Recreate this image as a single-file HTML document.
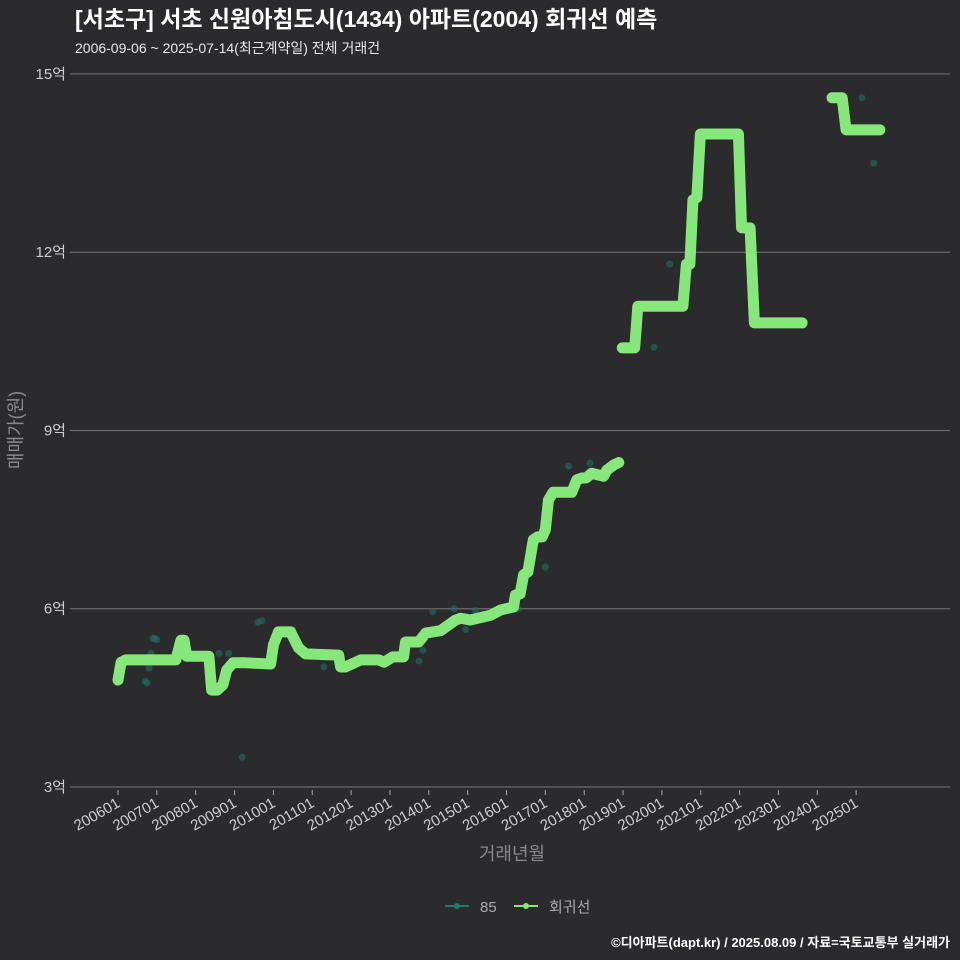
<!DOCTYPE html>
<html><head><meta charset="utf-8"><style>
body{margin:0;background:#2b2a2c;}
svg{display:block;font-family:"Liberation Sans","Noto Sans CJK KR",sans-serif;}
</style></head><body>
<svg id="chart" width="960" height="960" xmlns="http://www.w3.org/2000/svg">
<rect width="960" height="960" fill="#2b2a2c"/>
<text x="75" y="27" fill="#ffffff" font-size="23" font-weight="bold">[서초구] 서초 신원아침도시(1434) 아파트(2004) 회귀선 예측</text>
<text x="75" y="53" fill="#e8e8e8" font-size="14">2006-09-06 ~ 2025-07-14(최근계약일) 전체 거래건</text>
<g id="grid"></g><g id="yticks"></g><g id="xticks"></g>
<g id="scatter"></g><g id="line"></g>
<text transform="translate(22,430) rotate(-90)" text-anchor="middle" fill="#8a8a8a" font-size="18">매매가(원)</text>
<text x="512" y="860" text-anchor="middle" fill="#8a8a8a" font-size="18">거래년월</text>
<g>
<g>
<line x1="445" y1="906" x2="469" y2="906" stroke="#1f7a72" stroke-width="2"/><circle cx="457" cy="906" r="3" fill="#1f7a72"/>
<text x="480" y="912" fill="#aaaaaa" font-size="15">85</text></g>
<g>
<line x1="514" y1="906" x2="538" y2="906" stroke="#86e87a" stroke-width="2"/><circle cx="526" cy="906" r="3" fill="#86e87a"/>
<text x="549" y="912" fill="#aaaaaa" font-size="15">회귀선</text></g>
</g>
<text x="950" y="947" text-anchor="end" fill="#ffffff" font-size="13" font-weight="bold">©디아파트(dapt.kr) / 2025.08.09 / 자료=국토교통부 실거래가</text>
</svg>
<script>
const yTicks=[3,6,9,12,15];
const xTickLabels=['200601','200701','200801','200901','201001','201101','201201','201301','201401','201501','201601','201701','201801','201901','202001','202101','202201','202301','202401','202501'];
const lineYears=[2006.0,2006.08,2006.2,2007.49,2007.62,2007.7,2007.77,2008.34,2008.41,2008.55,2008.7,2008.8,2008.96,2009.29,2009.93,2010.0,2010.13,2010.44,2010.65,2010.83,2011.68,2011.73,2011.85,2012.25,2012.71,2012.85,2013.07,2013.35,2013.4,2013.74,2013.92,2014.3,2014.69,2014.82,2015.07,2015.59,2015.85,2016.18,2016.23,2016.35,2016.44,2016.55,2016.69,2016.8,2016.92,2017.0,2017.08,2017.2,2017.37,2017.68,2017.81,2017.94,2018.05,2018.19,2018.5,2018.58,2018.76,2018.89,null,2018.98,2019.3,2019.38,2020.54,2020.63,2020.72,2020.8,2020.9,2020.99,2021.97,2022.05,2022.27,2022.38,2023.61,null,2024.38,2024.64,2024.74,2025.61];
const lineValues=[4.80,5.10,5.14,5.14,5.47,5.47,5.20,5.20,4.63,4.63,4.72,4.97,5.09,5.09,5.07,5.39,5.61,5.61,5.34,5.24,5.22,5.02,5.02,5.14,5.14,5.10,5.19,5.19,5.44,5.44,5.59,5.63,5.81,5.84,5.81,5.89,5.98,6.03,6.23,6.25,6.57,6.62,7.16,7.21,7.21,7.33,7.83,7.96,7.96,7.96,8.17,8.20,8.20,8.28,8.23,8.33,8.42,8.46,null,10.39,10.39,11.09,11.09,11.80,11.80,12.88,12.92,13.99,13.99,12.41,12.41,10.81,10.81,null,14.60,14.60,14.06,14.06];
const scatterYears=[2006.7,2006.75,2006.8,2006.85,2006.9,2006.95,2007.0,2008.6,2008.85,2009.2,2009.6,2009.7,2010.5,2011.3,2011.9,2012.0,2013.75,2013.85,2014.1,2014.55,2014.65,2014.95,2015.2,2015.4,2016.3,2017.0,2017.6,2018.1,2018.15,2019.8,2020.2,2025.15,2025.45];
const scatterValues=[4.78,4.75,5.0,5.25,5.5,5.5,5.48,5.25,5.25,3.5,5.77,5.8,5.65,5.02,5.03,5.03,5.12,5.3,5.95,5.72,6.0,5.65,5.97,5.9,6.0,6.7,8.4,8.25,8.45,10.4,11.8,14.6,13.5];
const NS='http://www.w3.org/2000/svg';
function xS(yr){return 118+(yr-2006)*38.85;}
function yS(v){return 787-(v-3)*59.42;}
function mk(t,a,p){const e=document.createElementNS(NS,t);for(const k in a)e.setAttribute(k,a[k]);p.appendChild(e);return e;}
const g=document.getElementById('grid'),yt=document.getElementById('yticks'),xt=document.getElementById('xticks');
yTicks.forEach(v=>{
 const l=mk('line',{x1:70,x2:950,y1:yS(v),y2:yS(v),stroke:'#6a6a6a','stroke-width':1.2},g);
 
 
 const t=mk('text',{x:66,y:yS(v)+5,'text-anchor':'end',fill:'#cfcfcf','font-size':15},yt);
 t.textContent=v+'억';
 
 
});
xTickLabels.forEach((s,i)=>{
 const x=xS(2006+i);
 const tk=mk('line',{x1:x,x2:x,y1:790,y2:795,stroke:'#aaaaaa','stroke-width':1},xt);
 
 
 const t=mk('text',{transform:'translate('+(x+3)+',806) rotate(-30)','text-anchor':'end',fill:'#cfcfcf','font-size':15},xt);
 t.textContent=s;
 
 
});
const sc=document.getElementById('scatter');
scatterYears.forEach((yr,i)=>{
 const c=mk('circle',{cx:xS(yr),cy:yS(scatterValues[i]),r:3.5,fill:'#1f6e68','fill-opacity':0.6},sc);
 
 
});
const ln=document.getElementById('line');
let segs=[],cur=[];
lineYears.forEach((yr,i)=>{if(yr===null){if(cur.length)segs.push(cur);cur=[];}else cur.push(xS(yr)+','+yS(lineValues[i]));});
if(cur.length)segs.push(cur);
segs.forEach(s=>{
 const p=mk('polyline',{points:s.join(' '),fill:'none',stroke:'#86e87a','stroke-width':11,'stroke-linejoin':'round','stroke-linecap':'round'},ln);
 
 
});
</script>
</body></html>
